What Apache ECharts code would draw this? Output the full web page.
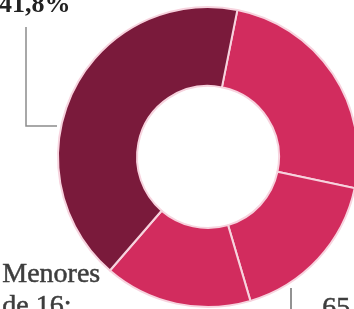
<!DOCTYPE html>
<html>
<head>
<meta charset="utf-8">
<script src="https://cdn.jsdelivr.net/npm/echarts@6/dist/echarts.min.js"></script>
<style>
html,body{margin:0;padding:0;background:#ffffff;}
#c{width:354px;height:309px;}
</style>
</head>
<body>
<div id="c"></div>
<script>
// Data (shares in %, clockwise starting at the top separator)
var categories = ['Grupo A', '65 y más', 'Menores de 16', 'Grupo D'];
var values = [25.2, 17.1, 15.9, 41.8];
var colors = ['#d22c5e', '#d22c5e', '#d22c5e', '#7a1a3b'];

function fmt(v){ return v.toFixed(1).replace('.', ',') + '%'; }

var chart = echarts.init(document.getElementById('c'), null, {renderer:'canvas'});
chart.setOption({
  animation: false,
  backgroundColor: '#ffffff',
  series: [{
    type: 'pie',
    center: [208, 157],
    radius: [71, 150],
    startAngle: 78.7,
    clockwise: true,
    label: {show: false},
    labelLine: {show: false},
    emphasis: {disabled: true},
    itemStyle: {borderColor: '#f7d3de', borderWidth: 2},
    data: categories.map(function(n, i){
      return {name: n, value: values[i], itemStyle: {color: colors[i]}};
    })
  }],
  graphic: [
    {type:'text', left: -1, top: -8, style:{text: fmt(values[3]), font:'bold 26px "Liberation Serif"', fill:'#222222'}},
    {type:'polyline', shape:{points:[[26,27],[26,126],[57,126]]}, style:{stroke:'#8c8c8c', lineWidth:1.5, fill:null}},
    {type:'text', left: 2, top: 259, style:{text: 'Menores\nde 16:', font:'28px "Liberation Serif"', lineHeight:32, fill:'#3d3d3d', stroke:'#3d3d3d', lineWidth:0.5}},
    {type:'line', shape:{x1:291, y1:288, x2:291, y2:312}, style:{stroke:'#6e6e6e', lineWidth:1.5}},
    {type:'text', left: 322, top: 294, style:{text: '65', font:'28px "Liberation Serif"', fill:'#3d3d3d', stroke:'#3d3d3d', lineWidth:0.5}}
  ]
});
</script>
</body>
</html>
